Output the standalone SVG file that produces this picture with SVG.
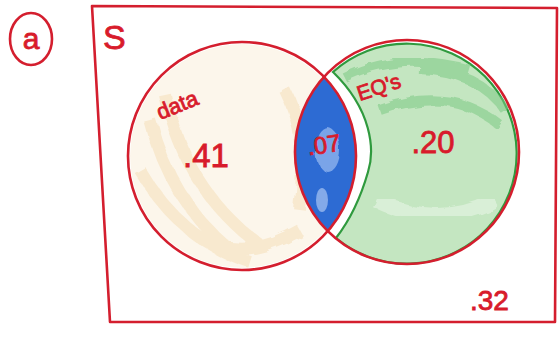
<svg xmlns="http://www.w3.org/2000/svg" width="560" height="339" viewBox="0 0 560 339">
<defs>
<style>
.red{fill:none;stroke:#d41e2e;stroke-width:2.6;stroke-linecap:round;stroke-linejoin:round}
.lbl{fill:#d81b2b;stroke:#d81b2b;stroke-width:0.8;font-family:"Liberation Sans","DejaVu Sans",sans-serif}
</style>
<filter id="rough" x="-5%" y="-5%" width="110%" height="110%">
<feTurbulence type="fractalNoise" baseFrequency="0.06" numOctaves="2" seed="3" result="n"/>
<feDisplacementMap in="SourceGraphic" in2="n" scale="8"/>
</filter>
<clipPath id="leftOnly"><circle cx="242" cy="156" r="112"/></clipPath>
</defs>
<rect width="560" height="339" fill="#ffffff"/>
<g id="label-a">
<ellipse cx="31" cy="39" rx="21" ry="26" class="red"/>
<text x="31" y="49" text-anchor="middle" font-size="30" class="lbl">a</text>
</g>
<g id="universe">
<path d="M92,6 L557,8 L555,322 L110,322 Z" class="red"/>
<text x="103" y="49" font-size="34" class="lbl">S</text>
<text x="470" y="310" font-size="28" class="lbl">.32</text>
</g>
<g id="shading">
<g clip-path="url(#leftOnly)" opacity="0.45">
<circle cx="242" cy="156" r="112" fill="#f9ead2"/>
<path d="M150,120 Q170,200 230,250 M165,95 Q185,190 260,245 M140,170 Q180,240 250,262 M285,90 Q310,140 300,210 M200,235 Q240,265 300,230" stroke="#efcf95" stroke-width="12" fill="none" filter="url(#rough)"/>
</g>
<path d="M333,72 C372,110 375,150 368,172 C360,200 350,220 336,238 A110 110 0 1 0 333,72 Z" fill="#c4e6c1" stroke="#2f9a3e" stroke-width="2.2"/>
<path d="M345,78 Q400,50 470,70 M380,110 Q450,85 500,125 M420,70 Q480,72 505,110" stroke="#7cc985" stroke-width="10" fill="none" opacity="0.55" filter="url(#rough)"/>
<path d="M375,200 Q440,230 495,200" stroke="#e3f3e1" stroke-width="14" fill="none" opacity="0.7" filter="url(#rough)"/>
<path d="M324,76.8 A114 114 0 0 1 327.75,231.15 A112 112 0 0 1 324,76.8 Z" fill="#2d6bd3"/>
<ellipse cx="328" cy="150" rx="12" ry="22" fill="#8eb3ee" opacity="0.8" filter="url(#rough)"/>
<ellipse cx="322" cy="200" rx="6" ry="12" fill="#a9c4f2" opacity="0.7"/>
</g>
<g id="set-data">
<circle cx="242" cy="156" r="114" class="red"/>
<text x="180" y="112" font-size="22" class="lbl" transform="rotate(-22 180 112)" text-anchor="middle">data</text>
<text x="206" y="167" font-size="33" class="lbl" text-anchor="middle">.41</text>
</g>
<g id="set-eqs">
<circle cx="407" cy="152" r="112" class="red"/>
<text x="381" y="94" font-size="21" class="lbl" transform="rotate(-18 381 94)" text-anchor="middle">EQ's</text>
<text x="433" y="153" font-size="31" class="lbl" text-anchor="middle">.20</text>
</g>
<g id="intersection">
<text x="325" y="153" font-size="24" class="lbl" text-anchor="middle" transform="rotate(-8 325 153)">.07</text>
</g>
<g id="connectors"/>
</svg>
